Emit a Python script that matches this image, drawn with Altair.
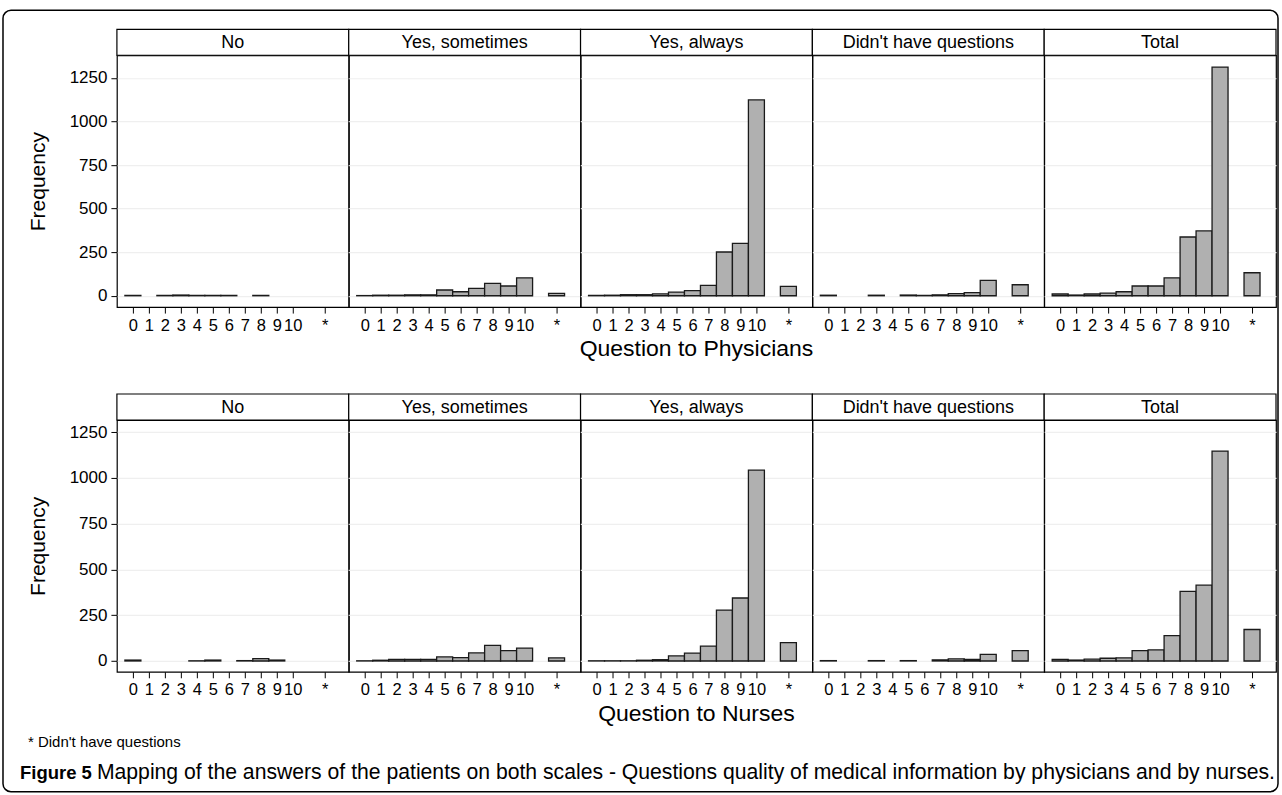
import altair as alt
import pandas as pd

# ---------------- data ----------------
categories = ["0", "1", "2", "3", "4", "5", "6", "7", "8", "9", "10", "*"]
panels = ["No", "Yes, sometimes", "Yes, always", "Didn't have questions", "Total"]

# Question to Physicians (frequencies per answer 0..10 and * = didn't have questions)
phys_no        = [2, 0, 2, 4, 2, 2, 2, 0, 2, 0, 0, 0]
phys_sometimes = [1, 3, 3, 5, 5, 33, 23, 42, 71, 56, 103, 14]
phys_always    = [2, 3, 6, 6, 11, 21, 29, 59, 251, 301, 1124, 54]
phys_noq       = [3, 0, 0, 3, 0, 4, 2, 5, 12, 18, 88, 63]
phys_total     = [10, 4, 10, 15, 23, 56, 56, 103, 337, 372, 1312, 132]

# Question to Nurses
nurse_no        = [5, 0, 0, 0, 1, 5, 0, 2, 13, 5, 0, 0]
nurse_sometimes = [1, 4, 9, 9, 9, 22, 18, 44, 85, 57, 70, 17]
nurse_always    = [1, 1, 1, 4, 7, 28, 43, 81, 278, 344, 1042, 100]
nurse_noq       = [2, 0, 0, 2, 0, 2, 0, 6, 12, 8, 36, 57]
nurse_total     = [9, 5, 10, 15, 17, 57, 61, 138, 380, 414, 1146, 172]

y_ticks = [0, 250, 500, 750, 1000, 1250]
x_ticks = [0, 1, 2, 3, 4, 5, 6, 7, 8, 9, 10, 12]

row_titles = ["Question to Physicians", "Question to Nurses"]
footnote = "* Didn't have questions"
caption_bold = "Figure 5"
caption_rest = ("Mapping of the answers of the patients on both scales - Questions quality "
                "of medical information by physicians and by nurses.")

FONT = "Liberation Sans"
PW, PH = 232, 252
HEADER_H = 26


def panel(values, title, col, ydomain, extra=None):
    df = pd.DataFrame({"cat": categories, "freq": values})
    xscale = alt.Scale(domain=[-1, 13.5], nice=False, zero=False)
    yscale = alt.Scale(domain=ydomain, nice=False, zero=False)
    xaxis = alt.Axis(values=x_ticks, labelExpr="datum.value == 12 ? '*' : datum.label",
                     title=None, domain=False, grid=False, tickSize=6, tickColor="black",
                     tickWidth=1, labelFontSize=16.5, labelColor="black", labelFont=FONT,
                     labelPadding=4, labelOverlap=False, labelFlush=False)
    if col == 0:
        yaxis = alt.Axis(values=y_ticks, format="d", title="Frequency", titleFontSize=21,
                         titleFontWeight="normal", titleFont=FONT, titleColor="black",
                         titlePadding=21, labelFontSize=17, labelFont=FONT,
                         labelColor="black", labelPadding=4, tickSize=6, tickColor="black",
                         domain=False, grid=True, gridColor="#efefef", gridWidth=1.2)
    else:
        yaxis = alt.Axis(values=y_ticks, labels=False, ticks=False, domain=False,
                         title=None, grid=True, gridColor="#efefef", gridWidth=1.2)

    bars = (
        alt.Chart(df)
        .transform_filter("datum.freq > 0")
        .transform_calculate(pos="datum.cat == '*' ? 12 : toNumber(datum.cat)")
        .transform_calculate(lo="datum.pos - 0.5", hi="datum.pos + 0.5")
        .mark_bar(fill="#b0b0b0", stroke="#1a1a1a", strokeWidth=1.3)
        .encode(
            x=alt.X("lo:Q", scale=xscale, axis=xaxis),
            x2="hi:Q",
            y=alt.Y("freq:Q", scale=yscale, axis=yaxis),
            y2=alt.datum(0),
        )
    )
    hdr_df = pd.DataFrame({"t": [title]})
    hdr_box = alt.Chart(hdr_df).mark_rect(fill="white", stroke="black", strokeWidth=1.2).encode(
        x=alt.value(0), x2=alt.value(PW), y=alt.value(-HEADER_H), y2=alt.value(0))
    hdr_txt = alt.Chart(hdr_df).mark_text(font=FONT, fontSize=18, color="black",
                                         baseline="middle", align="center").encode(
        x=alt.value(PW / 2), y=alt.value(-HEADER_H / 2 + 1), text="t:N")
    layers = [bars, hdr_box, hdr_txt]
    if extra:
        layers += extra
    return alt.layer(*layers).properties(width=PW, height=PH)


def row_title_layer(text):
    return alt.Chart(pd.DataFrame({"t": [text]})).mark_text(
        font=FONT, fontSize=23, color="black", baseline="middle", align="center").encode(
        x=alt.value(PW / 2), y=alt.value(PH + 42), text="t:N")


frame = alt.Chart(pd.DataFrame({"f": [1]})).mark_rect(
    fillOpacity=0, stroke="black", strokeWidth=1.5, cornerRadius=8).encode(
    x=alt.value(-114), x2=alt.value(1162), y=alt.value(-45), y2=alt.value(737))

foot = alt.Chart(pd.DataFrame({"t": [footnote]})).mark_text(
    font=FONT, fontSize=15, color="black", align="left", baseline="middle").encode(
    x=alt.value(-89), y=alt.value(322), text="t:N")
cap1 = alt.Chart(pd.DataFrame({"t": [caption_bold]})).mark_text(
    font=FONT, fontSize=18.5, fontWeight="bold", color="black", align="left",
    baseline="middle").encode(x=alt.value(-97), y=alt.value(353), text="t:N")
cap2 = alt.Chart(pd.DataFrame({"t": [caption_rest]})).mark_text(
    font=FONT, fontSize=21.2, color="black", align="left", baseline="middle").encode(
    x=alt.value(-20), y=alt.value(353), text="t:N")

phys = [phys_no, phys_sometimes, phys_always, phys_noq, phys_total]
nurse = [nurse_no, nurse_sometimes, nurse_always, nurse_noq, nurse_total]

row1_panels = []
for i, (vals, t) in enumerate(zip(phys, panels)):
    extra = []
    if i == 0:
        extra.append(frame)
    if i == 2:
        extra.append(row_title_layer(row_titles[0]))
    row1_panels.append(panel(vals, t, i, [-65, 1380], extra))

row2_panels = []
for i, (vals, t) in enumerate(zip(nurse, panels)):
    extra = []
    if i == 0:
        extra += [foot, cap1, cap2]
    if i == 2:
        extra.append(row_title_layer(row_titles[1]))
    row2_panels.append(panel(vals, t, i, [-59, 1316], extra))

row1 = alt.hconcat(*row1_panels, spacing=0, bounds="flush")
row2 = alt.hconcat(*row2_panels, spacing=0, bounds="flush")

chart = (
    alt.vconcat(row1, row2, spacing=PH + 113, bounds="flush")
    .properties(padding={"left": 1, "top": 8, "right": 2, "bottom": 2},
                background="white")
    .configure_view(stroke="black", strokeWidth=1.2)
)

chart.save("out.html", embed_options={"renderer": "svg", "actions": False})
